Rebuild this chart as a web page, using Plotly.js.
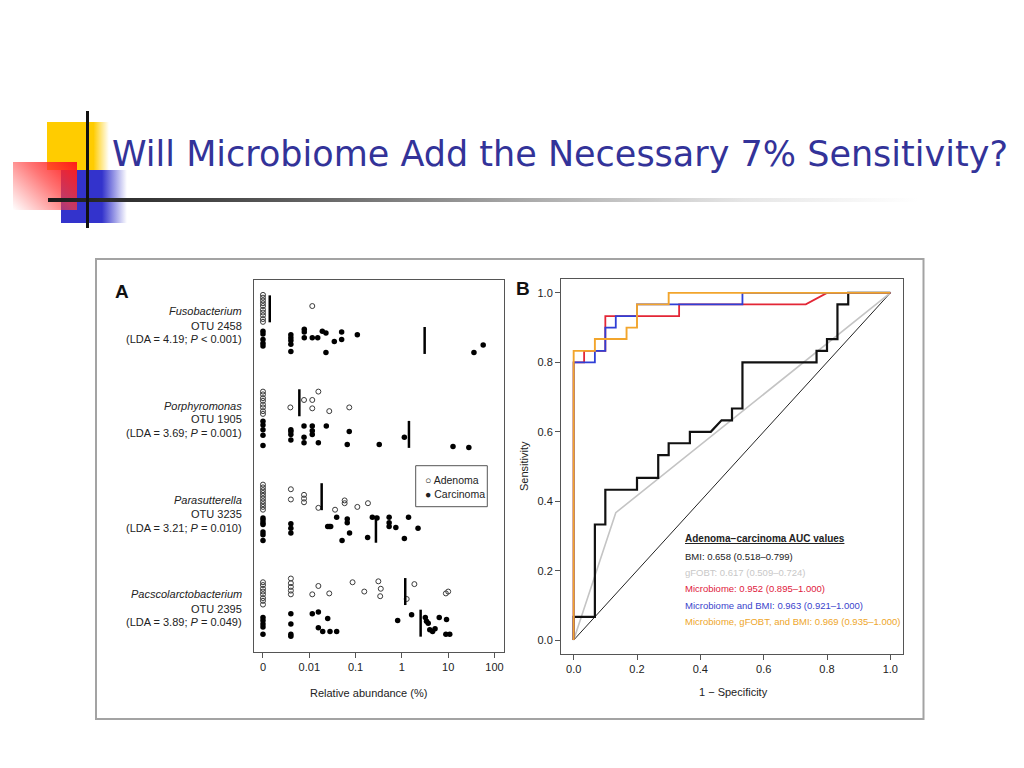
<!DOCTYPE html>
<html>
<head>
<meta charset="utf-8">
<script src="https://cdn.plot.ly/plotly-3.0.1.min.js"></script>
<style>
  html, body { margin:0; padding:0; background:#ffffff; }
  #stage { position:relative; width:1024px; height:768px; overflow:hidden; background:#fff; }
  .deco { position:absolute; }
  #plot { position:absolute; left:0; top:0; width:1024px; height:768px; }
</style>
</head>
<body>
<div id="stage">
  <div class="deco" style="left:47px;top:122px;width:62px;height:48px;background:linear-gradient(to right,#ffcc00 0%,#ffcc00 75%,rgba(255,204,0,0) 100%);"></div>
  <div class="deco" style="left:61px;top:170px;width:66px;height:53px;background:linear-gradient(to right,#3333cc 0%,#3333cc 62%,rgba(51,51,204,0) 100%);"></div>
  <div class="deco" style="left:13px;top:162px;width:64px;height:48px;background:linear-gradient(225deg,#ff1a1a 0%,rgba(255,60,60,0.7) 45%,rgba(255,255,255,0) 100%);"></div>
  <div class="deco" style="left:48px;top:198px;width:870px;height:4px;background:linear-gradient(to right,#1a1a1a 0%,#555 25%,#aaa 55%,#e6e6e6 80%,rgba(255,255,255,0) 100%);"></div>
  <div class="deco" style="left:86px;top:111px;width:3px;height:117px;background:#111;"></div>
  <div id="plot"></div>
</div>
<script>
// ---------- Panel A data (relative abundance, %; 0 = not detected) ----------
const taxa = ["Fusobacterium", "Porphyromonas", "Parasutterella", "Pacscolarctobacterium"];
const otuLabels = ["OTU 2458", "OTU 1905", "OTU 3235", "OTU 2395"];
const ldaLabels = ["(LDA = 4.19; <i>P</i> &lt; 0.001)", "(LDA = 3.69; <i>P</i> = 0.001)",
                   "(LDA = 3.21; <i>P</i> = 0.010)", "(LDA = 3.89; <i>P</i> = 0.049)"];

const fusoAdenomaX = [0,0,0,0,0,0,0,0,0,0,0.0116];
const fusoAdenomaY = [3.84,3.81,3.78,3.75,3.72,3.68,3.65,3.62,3.58,3.55,3.72];
const fusoCarcinomaX = [0,0,0,0,0,0.004,0.004,0.004,0.004,0.004,0.0078,0.0078,0.0078,0.0116,0.0152,0.0191,0.0229,0.0229,0.0347,0.05,0.05,0.109,36,57];
const fusoCarcinomaY = [3.45,3.42,3.36,3.32,3.29,3.41,3.38,3.35,3.31,3.23,3.47,3.44,3.38,3.38,3.38,3.45,3.43,3.22,3.34,3.44,3.36,3.41,3.22,3.30];

const porphAdenomaX = [0,0,0,0,0,0,0,0,0.0039,0.0077,0.0116,0.0116,0.0157,0.027,0.073];
const porphAdenomaY = [2.80,2.77,2.73,2.70,2.66,2.63,2.59,2.56,2.63,2.71,2.71,2.62,2.80,2.59,2.63];
const porphCarcinomaX = [0,0,0,0,0,0.004,0.004,0.004,0.004,0.0077,0.0077,0.0077,0.0116,0.0116,0.0116,0.0157,0.0233,0.073,0.066,0.324,1.13,12.7,27.9];
const porphCarcinomaY = [2.48,2.44,2.39,2.33,2.22,2.39,2.37,2.34,2.28,2.43,2.31,2.25,2.43,2.38,2.34,2.25,2.43,2.37,2.23,2.23,2.31,2.21,2.20];

const parasAdenomaX = [0,0,0,0,0,0,0,0,0,0,0.004,0.004,0.0077,0.0077,0.0077,0.0157,0.036,0.058,0.058,0.109,0.185];
const parasAdenomaY = [1.80,1.77,1.74,1.71,1.68,1.65,1.62,1.59,1.56,1.53,1.75,1.64,1.69,1.65,1.61,1.55,1.53,1.63,1.60,1.56,1.60];
const parasCarcinomaX = [0,0,0,0,0,0,0,0.004,0.004,0.004,0.025,0.027,0.029,0.039,0.051,0.066,0.066,0.074,0.182,0.23,0.29,0.53,0.53,0.53,0.74,1.13,1.39,2.23];
const parasCarcinomaY = [1.44,1.42,1.39,1.37,1.29,1.26,1.20,1.38,1.33,1.28,1.35,1.35,1.35,1.45,1.20,1.43,1.39,1.28,1.23,1.45,1.44,1.45,1.39,1.35,1.34,1.22,1.45,1.33];

const pacsAdenomaX = [0,0,0,0,0,0,0,0,0.004,0.004,0.004,0.004,0.004,0.0116,0.0157,0.027,0.086,0.154,0.31,0.35,0.34,1.27,1.86,8.9,10];
const pacsAdenomaY = [0.75,0.72,0.68,0.65,0.62,0.58,0.55,0.51,0.79,0.74,0.70,0.66,0.62,0.62,0.71,0.63,0.75,0.65,0.76,0.68,0.60,0.57,0.73,0.63,0.65];
const pacsCarcinomaX = [0,0,0,0,0,0.004,0.004,0.004,0.004,0.0116,0.0157,0.025,0.0157,0.0195,0.028,0.039,0.81,1.62,3.2,3.4,3.7,4.0,4.6,5.2,6.4,9.2,8.9,10.8];
const pacsCarcinomaY = [0.37,0.34,0.30,0.27,0.19,0.41,0.30,0.19,0.17,0.41,0.43,0.36,0.26,0.22,0.22,0.22,0.34,0.40,0.37,0.33,0.31,0.24,0.22,0.25,0.37,0.35,0.19,0.19];

const adenomaMedians = [0.0014, 0.0061, 0.0185, 1.18];
const carcinomaMedians = [3.1, 1.42, 0.275, 2.54];
const adenomaRows = [3.69, 2.68, 1.67, 0.65];
const carcinomaRows = [3.35, 2.34, 1.32, 0.31];

const abundanceTickVals = [0, 0.01, 0.1, 1, 10, 100];
const abundanceTickText = ["0", "0.01", "0.1", "1", "10", "100"];

// ---------- Panel B data (ROC curves) ----------
const bmiFpr = [0,0,0.067,0.067,0.1,0.1,0.2,0.2,0.267,0.267,0.3,0.3,0.367,0.367,0.433,0.467,0.5,0.5,0.533,0.533,0.767,0.767,0.8,0.8,0.833,0.833,0.867,0.867,1];
const bmiTpr = [0,0.067,0.067,0.333,0.333,0.433,0.433,0.467,0.467,0.533,0.533,0.567,0.567,0.6,0.6,0.633,0.633,0.667,0.667,0.8,0.8,0.833,0.833,0.867,0.867,0.967,0.967,1,1];
const gfobtFpr = [0, 0.133, 1];
const gfobtTpr = [0, 0.367, 1];
const microFpr = [0,0,0.033,0.033,0.1,0.1,0.333,0.333,0.733,0.8,1];
const microTpr = [0,0.8,0.8,0.833,0.833,0.933,0.933,0.967,0.967,1,1];
const microBmiFpr = [0,0,0.067,0.067,0.1,0.1,0.133,0.133,0.2,0.2,0.533,0.533,1];
const microBmiTpr = [0,0.8,0.8,0.833,0.833,0.9,0.9,0.933,0.933,0.967,0.967,1,1];
const allFpr = [0,0,0.067,0.067,0.167,0.167,0.2,0.2,0.3,0.3,1];
const allTpr = [0,0.833,0.833,0.867,0.867,0.9,0.9,0.967,0.967,1,1];
const aucLabels = ["BMI: 0.658 (0.518\u20130.799)", "gFOBT: 0.617 (0.509\u20130.724)",
                   "Microbiome: 0.952 (0.895\u20131.000)", "Microbiome and BMI: 0.963 (0.921\u20131.000)",
                   "Microbiome, gFOBT, and BMI: 0.969 (0.935\u20131.000)"];

// ---------- build ----------
const ZERO_POS = 0.001;           // where "0" sits on the log axis
const W = 1024, H = 768;
const px = v => v / W, py = v => 1 - v / H;
const mapX = arr => arr.map(v => v === 0 ? ZERO_POS : v);
const FONT = "Liberation Sans, Arial, Helvetica, sans-serif";

const groups = [
  [fusoAdenomaX, fusoAdenomaY, fusoCarcinomaX, fusoCarcinomaY],
  [porphAdenomaX, porphAdenomaY, porphCarcinomaX, porphCarcinomaY],
  [parasAdenomaX, parasAdenomaY, parasCarcinomaX, parasCarcinomaY],
  [pacsAdenomaX, pacsAdenomaY, pacsCarcinomaX, pacsCarcinomaY]
];

const traces = [];
groups.forEach((g, i) => {
  traces.push({ x: mapX(g[0]), y: g[1], xaxis: 'x', yaxis: 'y', mode: 'markers', type: 'scatter',
    name: 'Adenoma', showlegend: false, hoverinfo: 'skip',
    marker: { symbol: 'circle-open', size: 5, color: '#3a3a3a', line: { width: 1, color: '#3a3a3a' } } });
  traces.push({ x: mapX(g[2]), y: g[3], xaxis: 'x', yaxis: 'y', mode: 'markers', type: 'scatter',
    name: 'Carcinoma', showlegend: false, hoverinfo: 'skip',
    marker: { symbol: 'circle', size: 5.5, color: '#000' } });
});
// median bars
const mx = [], my = [];
const HALF = 0.145;
adenomaMedians.forEach((m, i) => { mx.push(m, m, null); my.push(adenomaRows[i] - HALF, adenomaRows[i] + HALF, null); });
carcinomaMedians.forEach((m, i) => { mx.push(m, m, null); my.push(carcinomaRows[i] - HALF, carcinomaRows[i] + HALF, null); });
traces.push({ x: mx, y: my, xaxis: 'x', yaxis: 'y', mode: 'lines', type: 'scatter', showlegend: false,
  hoverinfo: 'skip', line: { color: '#000', width: 2.5 } });

// Panel B
traces.push({ x: [0, 1], y: [0, 1], xaxis: 'x2', yaxis: 'y2', mode: 'lines', showlegend: false, hoverinfo: 'skip',
  line: { color: '#222', width: 1 } });
traces.push({ x: gfobtFpr, y: gfobtTpr, xaxis: 'x2', yaxis: 'y2', mode: 'lines', showlegend: false, hoverinfo: 'skip',
  line: { color: '#c4c4c4', width: 1.6 } });
traces.push({ x: bmiFpr, y: bmiTpr, xaxis: 'x2', yaxis: 'y2', mode: 'lines', showlegend: false, hoverinfo: 'skip',
  line: { color: '#111', width: 2.2 } });
traces.push({ x: microFpr, y: microTpr, xaxis: 'x2', yaxis: 'y2', mode: 'lines', showlegend: false, hoverinfo: 'skip',
  line: { color: '#e32636', width: 1.8 } });
traces.push({ x: microBmiFpr, y: microBmiTpr, xaxis: 'x2', yaxis: 'y2', mode: 'lines', showlegend: false, hoverinfo: 'skip',
  line: { color: '#2f3fd6', width: 1.8 } });
traces.push({ x: allFpr, y: allTpr, xaxis: 'x2', yaxis: 'y2', mode: 'lines', showlegend: false, hoverinfo: 'skip',
  line: { color: '#f2a52c', width: 1.9 } });

const annotations = [];
const labelTops = [[310.7, 325.7, 339], [406, 419.3, 433.3], [500, 514.3, 528.3], [594, 609, 622.3]];
taxa.forEach((t, i) => {
  const texts = ["<i>" + t + "</i>", otuLabels[i], ldaLabels[i]];
  texts.forEach((s, j) => annotations.push({ xref: 'paper', yref: 'paper', x: px(243.5), y: py(labelTops[i][j]),
    xanchor: 'right', yanchor: 'middle', text: s, showarrow: false,
    font: { family: FONT, size: 11, color: '#222' } }));
});
annotations.push({ xref: 'paper', yref: 'paper', x: px(121.5), y: py(291), text: '<b>A</b>', showarrow: false,
  xanchor: 'center', yanchor: 'middle', font: { family: FONT, size: 19, color: '#111' } });
annotations.push({ xref: 'paper', yref: 'paper', x: px(523), y: py(288), text: '<b>B</b>', showarrow: false,
  xanchor: 'center', yanchor: 'middle', font: { family: FONT, size: 19, color: '#111' } });
annotations.push({ xref: 'paper', yref: 'paper', x: px(368), y: py(692.5), text: 'Relative abundance (%)', showarrow: false,
  xanchor: 'center', yanchor: 'middle', font: { family: FONT, size: 11, color: '#222' } });
annotations.push({ xref: 'paper', yref: 'paper', x: px(733), y: py(691.5), text: '1 \u2212 Specificity', showarrow: false,
  xanchor: 'center', yanchor: 'middle', font: { family: FONT, size: 11, color: '#222' } });
annotations.push({ xref: 'paper', yref: 'paper', x: px(524), y: py(466), text: 'Sensitivity', showarrow: false, textangle: -90,
  xanchor: 'center', yanchor: 'middle', font: { family: FONT, size: 11, color: '#222' } });
// Panel A legend
annotations.push({ xref: 'paper', yref: 'paper', x: px(422.5), y: py(480), text: '\u25CB Adenoma', showarrow: false,
  xanchor: 'left', yanchor: 'middle', font: { family: FONT, size: 10.5, color: '#222' } });
annotations.push({ xref: 'paper', yref: 'paper', x: px(422.5), y: py(494), text: '\u25CF Carcinoma', showarrow: false,
  xanchor: 'left', yanchor: 'middle', font: { family: FONT, size: 10.5, color: '#222' } });
// Panel B AUC legend
annotations.push({ xref: 'paper', yref: 'paper', x: px(682.5), y: py(538.5), text: '<b><u>Adenoma\u2212carcinoma AUC values</u></b>',
  showarrow: false, xanchor: 'left', yanchor: 'middle', font: { family: FONT, size: 10, color: '#222' } });
const aucColors = ['#222222', '#c8c8c8', '#e0203c', '#3a44cc', '#eea62a'];
const aucTops = [556, 572.3, 588.3, 605, 621.7];
aucLabels.forEach((s, i) => annotations.push({ xref: 'paper', yref: 'paper', x: px(682.5), y: py(aucTops[i]), text: s,
  showarrow: false, xanchor: 'left', yanchor: 'middle', font: { family: FONT, size: 9.5, color: aucColors[i] } }));

const shapes = [
  { type: 'rect', xref: 'paper', yref: 'paper', x0: px(96), x1: px(923.5), y0: py(719), y1: py(259),
    line: { color: '#a3a3a3', width: 2 }, fillcolor: '#ffffff', layer: 'below' },
  { type: 'rect', xref: 'paper', yref: 'paper', x0: px(415.7), x1: px(487.3), y0: py(506.7), y1: py(465.7),
    line: { color: '#555', width: 1 }, fillcolor: 'rgba(0,0,0,0)' }
];

const axisCommon = { showgrid: false, zeroline: false, showline: true, mirror: true, linecolor: '#555', linewidth: 1,
  ticks: 'outside', ticklen: 5, tickcolor: '#555', tickfont: { family: FONT, size: 11, color: '#222' } };

const layout = {
  width: W, height: H,
  margin: { l: 0, r: 0, t: 0, b: 0 },
  paper_bgcolor: 'rgba(0,0,0,0)', plot_bgcolor: '#ffffff',
  showlegend: false,
  title: { text: 'Will Microbiome Add the Necessary 7% Sensitivity?', x: px(112), xanchor: 'left',
    y: py(154), yanchor: 'middle', font: { family: 'DejaVu Sans, sans-serif', size: 35, color: '#333399' } },
  xaxis: Object.assign({}, axisCommon, { domain: [px(254), px(504)], type: 'log',
    range: [-3.194, 2.205], tickvals: mapX(abundanceTickVals), ticktext: abundanceTickText }),
  yaxis: Object.assign({}, axisCommon, { domain: [py(652), py(280)], range: [0, 4], ticks: '', showticklabels: false }),
  xaxis2: Object.assign({}, axisCommon, { domain: [px(561), px(903)], range: [-0.04, 1.04], anchor: 'y2',
    tickvals: [0, 0.2, 0.4, 0.6, 0.8, 1.0], tickformat: '.1f' }),
  yaxis2: Object.assign({}, axisCommon, { domain: [py(654), py(279)], range: [-0.04, 1.04], anchor: 'x2',
    tickvals: [0, 0.2, 0.4, 0.6, 0.8, 1.0], tickformat: '.1f' }),
  annotations: annotations,
  shapes: shapes
};

Plotly.newPlot('plot', traces, layout, { staticPlot: true, displayModeBar: false });
</script>
</body>
</html>
